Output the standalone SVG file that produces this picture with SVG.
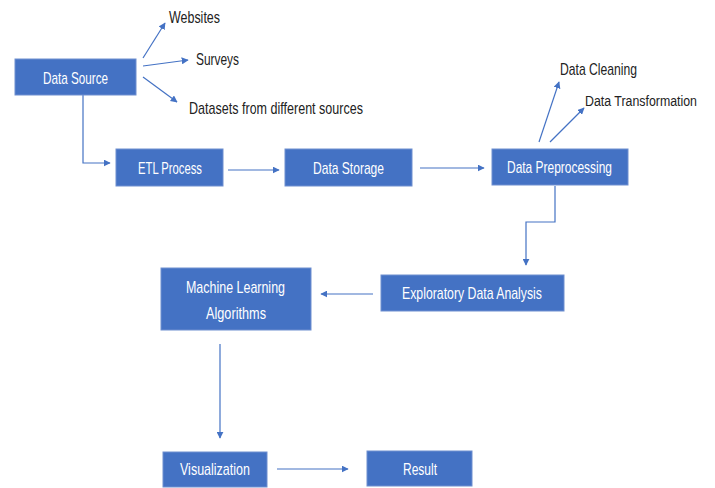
<svg xmlns="http://www.w3.org/2000/svg" width="715" height="488" viewBox="0 0 715 488">
<style>
.box{fill:#4472C4;stroke:#6F8FD0;stroke-width:1}
.bt{fill:#FFFFFF;font-family:"Liberation Sans",Arial,sans-serif;font-size:17px;text-anchor:middle;dominant-baseline:central}
.lt{fill:#222222;font-family:"Liberation Sans",Arial,sans-serif;font-size:17px;dominant-baseline:central}
.c{fill:none;stroke:#4472C4;stroke-width:1.2;marker-end:url(#ah)}
</style>
<defs>
<marker id="ah" viewBox="0 0 10 10" refX="9" refY="5" markerWidth="7" markerHeight="7" markerUnits="userSpaceOnUse" orient="auto">
<path d="M0,0 L10,5 L0,10 Z" fill="#4472C4"/>
</marker>
</defs>
<rect width="715" height="488" fill="#FFFFFF"/>
<g id="connectors">
<line class="c" x1="143" y1="58" x2="165" y2="23"/>
<line class="c" x1="143" y1="66" x2="188" y2="60"/>
<line class="c" x1="143" y1="77" x2="177" y2="102"/>
<polyline class="c" points="83,95 83,163 110,163"/>
<line class="c" x1="228" y1="170" x2="279" y2="170"/>
<line class="c" x1="420" y1="168" x2="484" y2="168"/>
<line class="c" x1="539" y1="142" x2="559" y2="82"/>
<line class="c" x1="550" y1="142" x2="584" y2="108"/>
<polyline class="c" points="555,186 555,222 526,222 526,265"/>
<line class="c" x1="373" y1="294" x2="321" y2="294"/>
<line class="c" x1="220" y1="344" x2="220" y2="438"/>
<line class="c" x1="277" y1="469" x2="348" y2="469"/>
</g>
<g id="data-source">
<rect class="box" x="15" y="59" width="121" height="36"/>
<text class="bt" x="75.5" y="78" textLength="65" lengthAdjust="spacingAndGlyphs">Data Source</text>
</g>
<g id="websites"><text class="lt" x="169" y="17" textLength="51" lengthAdjust="spacingAndGlyphs">Websites</text></g>
<g id="surveys"><text class="lt" x="196" y="59" textLength="43" lengthAdjust="spacingAndGlyphs">Surveys</text></g>
<g id="datasets"><text class="lt" x="189" y="108" textLength="174" lengthAdjust="spacingAndGlyphs">Datasets from different sources</text></g>
<g id="etl-process">
<rect class="box" x="116" y="149" width="107" height="37"/>
<text class="bt" x="170" y="168" textLength="64" lengthAdjust="spacingAndGlyphs">ETL Process</text>
</g>
<g id="data-storage">
<rect class="box" x="285" y="149" width="127" height="37"/>
<text class="bt" x="348.5" y="168" textLength="71" lengthAdjust="spacingAndGlyphs">Data Storage</text>
</g>
<g id="data-preprocessing">
<rect class="box" x="492" y="149" width="136" height="36"/>
<text class="bt" x="559.5" y="167" textLength="105" lengthAdjust="spacingAndGlyphs">Data Preprocessing</text>
</g>
<g id="data-cleaning"><text class="lt" x="560" y="69" textLength="77" lengthAdjust="spacingAndGlyphs">Data Cleaning</text></g>
<g id="data-transformation"><text class="lt" x="585" y="101" style="font-size:14px" textLength="112" lengthAdjust="spacingAndGlyphs">Data Transformation</text></g>
<g id="eda">
<rect class="box" x="381" y="275" width="183" height="36"/>
<text class="bt" x="472" y="293" textLength="140" lengthAdjust="spacingAndGlyphs">Exploratory Data Analysis</text>
</g>
<g id="ml-algorithms">
<rect class="box" x="161" y="268" width="150" height="62"/>
<text class="bt" x="235.5" y="287" textLength="99" lengthAdjust="spacingAndGlyphs">Machine Learning</text>
<text class="bt" x="236" y="313" textLength="60" lengthAdjust="spacingAndGlyphs">Algorithms</text>
</g>
<g id="visualization">
<rect class="box" x="163" y="452" width="104" height="35"/>
<text class="bt" x="215" y="469" textLength="70" lengthAdjust="spacingAndGlyphs">Visualization</text>
</g>
<g id="result">
<rect class="box" x="367" y="451" width="105" height="35"/>
<text class="bt" x="420" y="469" textLength="34" lengthAdjust="spacingAndGlyphs">Result</text>
</g>
</svg>
